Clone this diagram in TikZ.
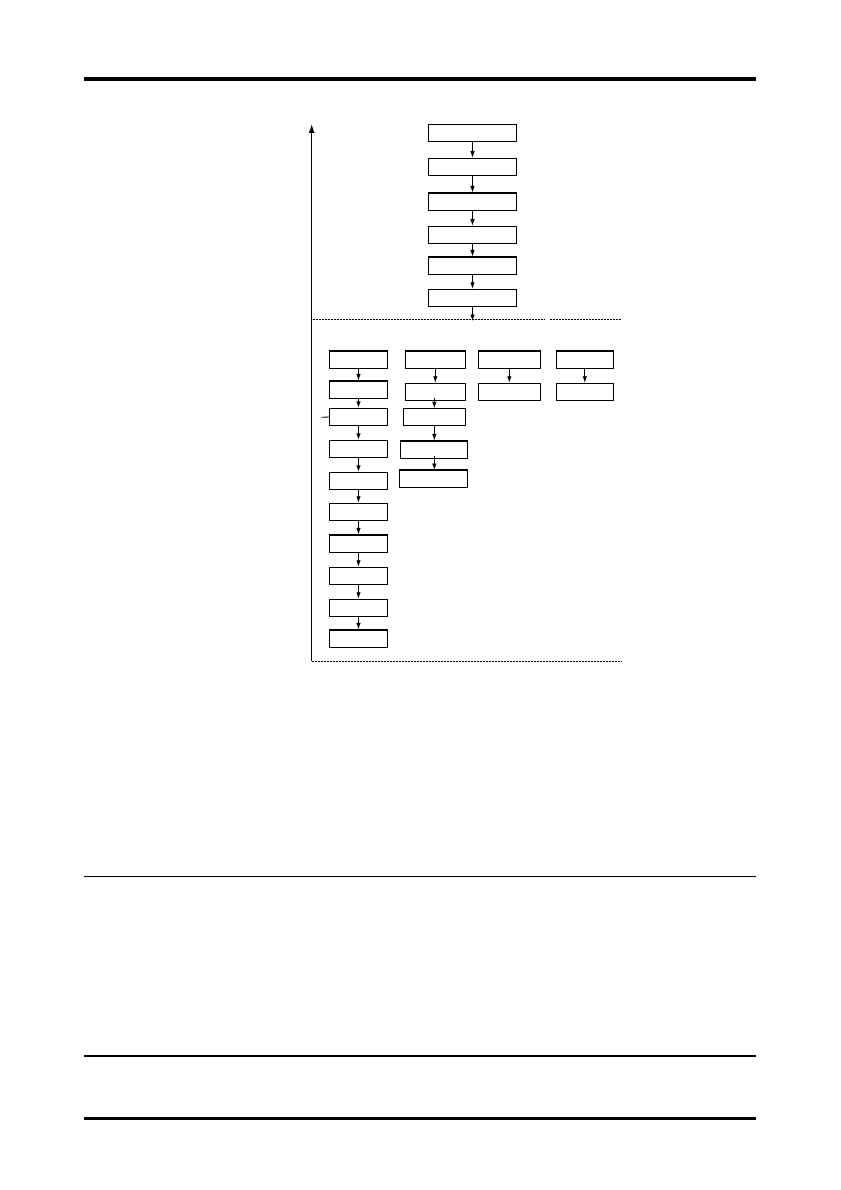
\documentclass[tikz,border=0pt]{standalone}
\usetikzlibrary{arrows.meta}
\begin{document}
\begin{tikzpicture}[x=1pt,y=-1pt,
  box/.style={draw,line width=1.1pt,inner sep=0pt,minimum height=17.4pt},
  tbox/.style={box,minimum width=88.4pt},
  cbox/.style={box,minimum width=58pt},
  flow/.style={line width=0.9pt,-{Latex[length=6.5pt,width=4.5pt]}},
  sep/.style={line width=0.9pt,dash pattern=on 2pt off 1pt}]
\fill[white] (0,0) rectangle (840,1190);
\useasboundingbox (0,0) rectangle (840,1190);
% page rules
\draw[line width=4pt] (84,79) -- (756,79);
\draw[line width=1.3pt] (84,876.5) -- (756,876.5);
\draw[line width=1.3pt] (84,1056) -- (756,1056);
\draw[line width=3.5pt] (84,1118.3) -- (756,1118.3);
% axis
\coordinate (axb) at (311.7,661);
\coordinate (axt) at (311.7,124);
\draw[line width=1.3pt,-{Latex[length=9pt,width=6pt]}] (axb) -- (axt);
% dashed separators
\draw[sep] (312.7,319.5) -- (545,319.5);
\draw[sep] (550,319.5) -- (621,319.5);
\draw[sep] (311.7,661) -- (621,661);
% top column
\node[tbox] (t1) at (472.5,133) {};
\node[tbox] (t2) at (472.5,167) {};
\node[tbox] (t3) at (472.5,201.7) {};
\node[tbox] (t4) at (472.5,235) {};
\node[tbox] (t5) at (472.5,265.7) {};
\node[tbox] (t6) at (472.5,298) {};
\coordinate (tend) at (472.5,321);
\draw[flow] (t1) -- (t2);
\draw[flow] (t2) -- (t3);
\draw[flow] (t3) -- (t4);
\draw[flow] (t4) -- (t5);
\draw[flow] (t5) -- (t6);
\draw[flow] (t6) -- (tend);
% column 1
\node[cbox] (a1) at (358.5,359.7) {};
\node[cbox] (a2) at (358.5,389.7) {};
\node[cbox] (a3) at (358.5,417) {};
\node[cbox] (a4) at (358.5,449) {};
\node[cbox] (a5) at (358.5,481) {};
\node[cbox] (a6) at (358.5,512) {};
\node[cbox] (a7) at (358.5,543.7) {};
\node[cbox] (a8) at (358.5,576) {};
\node[cbox] (a9) at (358.5,608) {};
\node[cbox] (a10) at (358.5,638.7) {};
\foreach \i/\j in {1/2,2/3,3/4,4/5,5/6,6/7,7/8,8/9,9/10}
  \draw[flow] (a\i) -- (a\j);
\coordinate (tick) at (321.7,417.3);
\draw[line width=0.9pt] (tick) -- (a3.west);
% column 2
\node[box,minimum width=60pt] (b1) at (435.3,359.7) {};
\node[box,minimum width=60pt] (b2) at (435.3,392) {};
\node[box,minimum width=62pt] (b3) at (434.3,417) {};
\node[box,minimum width=67pt] (b4) at (433.8,449.7) {};
\node[box,minimum width=68pt] (b5) at (433.3,478.7) {};
\draw[flow] (b1.south) -- (b1.south |- b2.north);
\draw[flow] (434.3,398) -- (434.3,408.3);
\draw[flow] (b3.south) -- (b3.south |- b4.north);
\draw[flow] (434.3,456) -- (434.3,470);
% column 3
\node[box,minimum width=62pt] (c1) at (509.3,359.7) {};
\node[box,minimum width=62pt] (c2) at (509.3,392) {};
\draw[flow] (c1) -- (c2);
% column 4
\node[box,minimum width=57pt] (d1) at (584.8,359.7) {};
\node[box,minimum width=57pt] (d2) at (584.8,392) {};
\draw[flow] (d1) -- (d2);
\end{tikzpicture}
\end{document}
